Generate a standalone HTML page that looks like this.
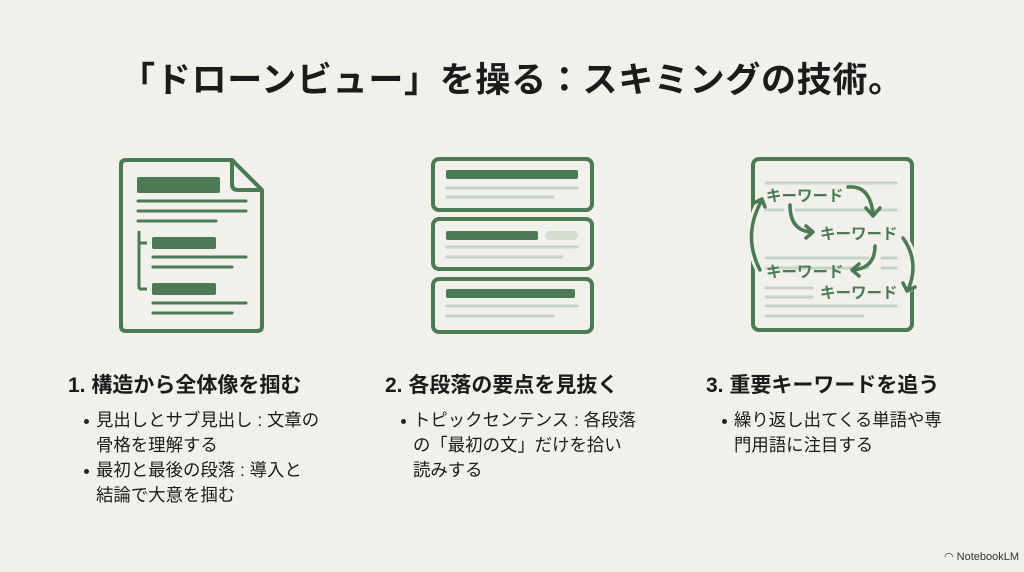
<!DOCTYPE html>
<html><head><meta charset="utf-8"><style>
body{margin:0;width:1024px;height:572px;background:#f1f0eb;position:relative;overflow:hidden;font-family:"Liberation Sans","Noto Sans CJK JP",sans-serif;color:#1b1b1b}
.t{position:absolute;white-space:nowrap}
h1{position:absolute;left:0;width:1024px;top:52px;margin:0;text-align:center;font-size:35px;font-weight:bold;letter-spacing:0.7px}
.h{font-size:21px;font-weight:bold}
.b{font-size:17.4px;line-height:25px}
.dot{position:absolute;width:5px;height:5px;border-radius:50%;background:#222}
</style></head><body>
<h1>「ドローンビュー」を操る：スキミングの技術。</h1>
<svg width="1024" height="572" style="position:absolute;left:0;top:0">
<g fill="none" stroke="#4b7a55" stroke-width="4" stroke-linejoin="round">
<path d="M126,160 H232 L262,190 V326 Q262,331 257,331 H126 Q121,331 121,326 V165 Q121,160 126,160Z"/>
<path d="M232,160 V184 Q232,190 238,190 H262"/>
<path d="M139,231 V289 M139,243 H147 M139,289 H147" stroke-width="3"/>
<rect x="433" y="159" width="159" height="51" rx="6"/>
<rect x="433" y="219" width="159" height="50" rx="6"/>
<rect x="433" y="279" width="159" height="53" rx="6"/>
<rect x="753" y="159" width="159" height="171" rx="6"/>
</g>
<g fill="#4b7a55">
<rect x="137" y="177" width="83" height="16" rx="2"/>
<rect x="152" y="237" width="64" height="12" rx="2"/>
<rect x="152" y="283" width="64" height="12" rx="2"/>
<rect x="446" y="170" width="132" height="9" rx="2"/>
<rect x="446" y="231" width="92" height="9" rx="2"/>
<rect x="446" y="289" width="129" height="9" rx="2"/>
</g>
<g stroke="#4b7a55" stroke-width="3" stroke-linecap="round">
<path d="M138,201H246M138,211H246M138,221H216M153,257H246M153,267H232M153,303H246M153,313H232"/>
</g>
<g stroke="#c7d3c6" stroke-width="3" stroke-linecap="round">
<path d="M447,188H577M447,197H553M447,247H577M447,257H562M447,306H577M447,316H553"/>
<path d="M766,183H896M766,210H783M796,210H896M766,258H868M882,258H896M766,268H868M882,268H896M766,288H812M766,297H812M766,306H896M766,316H863"/>
</g>
<rect x="545" y="231" width="33" height="9" rx="4.5" fill="#d5ddd3"/>
<g fill="none" stroke="#f1f0eb" stroke-width="9">
<path d="M760,270 Q742,235 762,200"/><path d="M903,238 Q920,262 908,290"/>
</g>
<g fill="none" stroke="#4b7a55" stroke-width="3.5" stroke-linecap="round" stroke-linejoin="round">
<path d="M848,187 Q870,185 873,214"/><path d="M866,208 L873,216 L880,208"/>
<path d="M790,205 Q790,231 812,232"/><path d="M806,226 L813,232 L806,238"/>
<path d="M875,246 Q875,268 853,270"/><path d="M859,264 L852,270 L859,276"/>
<path d="M903,238 Q920,262 908,290"/><path d="M903,283 L907,291 L915,287"/>
<path d="M760,270 Q742,235 762,200"/><path d="M754,203 L762,199 L765,207"/>
</g>
<g fill="#4b7a55" font-family="Liberation Sans,Noto Sans CJK JP,sans-serif" font-size="15.5" font-weight="bold">
<text x="766" y="201">キーワード</text>
<text x="820" y="239">キーワード</text>
<text x="766" y="277">キーワード</text>
<text x="820" y="298">キーワード</text>
</g>
</svg>
<div class="t h" style="left:68px;top:369px">1. 構造から全体像を掴む</div>
<div class="t h" style="left:385px;top:369px">2. 各段落の要点を見抜く</div>
<div class="t h" style="left:706px;top:369px">3. 重要キーワードを追う</div>
<div class="dot" style="left:84px;top:419px"></div>
<div class="t b" style="left:96px;top:408px">見出しとサブ見出し : 文章の<br>骨格を理解する</div>
<div class="dot" style="left:84px;top:469px"></div>
<div class="t b" style="left:96px;top:458px">最初と最後の段落 : 導入と<br>結論で大意を掴む</div>
<div class="dot" style="left:401px;top:419px"></div>
<div class="t b" style="left:413px;top:408px">トピックセンテンス : 各段落<br>の「最初の文」だけを拾い<br>読みする</div>
<div class="dot" style="left:722px;top:419px"></div>
<div class="t b" style="left:734px;top:408px">繰り返し出てくる単語や専<br>門用語に注目する</div>
<div class="t" style="left:944px;top:550px;font-size:11px;color:#333">◠ NotebookLM</div>
</body></html>
